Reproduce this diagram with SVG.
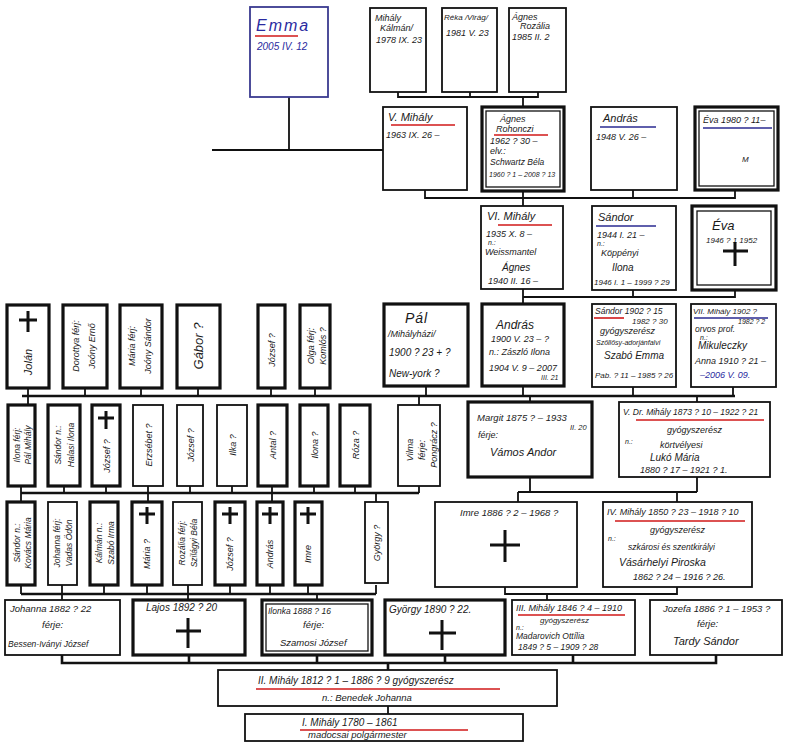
<svg xmlns="http://www.w3.org/2000/svg" width="786" height="745" viewBox="0 0 786 745">
<style>
.b{fill:#fff;stroke:#111;stroke-width:1.8}
.t{fill:#fff;stroke:#111;stroke-width:3.2}
.i{fill:none;stroke:#111;stroke-width:1.3}
.e{fill:#fff;stroke:#3a3a90;stroke-width:1.8}
text{font-family:"Liberation Sans","DejaVu Sans",sans-serif;font-style:italic;fill:#1a1a1a;font-size:9px}
.m{text-anchor:middle}
.bl{fill:#2a2aa0}
.red{stroke:#d01818;stroke-width:1.6;fill:none}
.blu{stroke:#2a2a90;stroke-width:1.4;fill:none}
.cr{stroke:#111;stroke-width:3;fill:none}
.cn path{fill:none;stroke:#111;stroke-width:1.8}
</style>
<rect width="786" height="745" fill="#fff"/>

<g class="cn">
<path d="M289,97 V150 M212,150 H383"/>
<path d="M398,92 V97 H538 V92 M470,92 V97 M523,97 V107"/>
<path d="M425,190 V198 H735 V190 M523,191 V206 M633,190 V198"/>
<path d="M523,289 V297 H735 V290 M633,290 V297 M523,297 V304"/>
<path d="M22,396 H735" style="stroke-width:2.6"/>
<path d="M28,388 V405 M85,388 V396 M141,388 V396 M198,388 V396 M271,388 V396 M315,388 V396 M426,386 V396 M523,386 V396 M633,387 V396 M733,387 V396 M419,396 V405 M530,396 V402 M697,396 V402"/>
<path d="M21,493 H419" style="stroke-width:2.6"/>
<path d="M21,486 V502 M64,486 V493 M106,486 V493 M148,486 V502 M190,486 V493 M232,486 V493 M272,486 V502 M314,486 V493 M355,486 V493 M419,486 V493 M376,493 V502"/>
<path d="M530,477 V492 M697,477 V492 M518,492 H697 M518,492 V502 M677,492 V502"/>
<path d="M21,594 H376" style="stroke-width:2.6"/>
<path d="M21,585 V594 M62,585 V600 M104,585 V594 M147,585 V594 M188,585 V600 M230,585 V594 M270,585 V594 M308,585 V594 M376,585 V594 M317,594 V600"/>
<path d="M505,587 V594 H677 V587 M547,594 V600"/>
<path d="M62,655 V663 H716 V655 M189,655 V663 M317,655 V663 M445,655 V663 M573,655 V663 M388,663 V670" style="stroke-width:2.6"/>
<path d="M388,706 V714"/>
</g>

<g id="emma">
<rect class="e" x="250" y="7" width="78" height="90"/>
<text class="bl" x="256" y="31" style="font-size:16px;letter-spacing:2px">Emma</text>
<path class="red" d="M255,36 H298"/>
<text class="bl" x="257" y="50" style="font-size:10px">2005 IV. 12</text>
</g>
<g id="mihaly-kalman">
<rect class="b" x="370" y="8" width="56" height="84"/>
<text x="375" y="21">Mihály</text>
<text x="380" y="31">Kálmán/</text>
<text x="376" y="43">1978 IX. 23</text>
</g>
<g id="reka">
<rect class="b" x="442" y="8" width="55" height="84"/>
<text x="444" y="20" style="font-size:8px">Réka /Virág/</text>
<text x="446" y="36">1981 V. 23</text>
</g>
<g id="agnes-rozalia">
<rect class="b" x="509" y="8" width="57" height="84"/>
<text x="512" y="20">Ágnes</text>
<text x="520" y="29">Rozália</text>
<text x="512" y="40">1985 II. 2</text>
</g>

<g id="v-mihaly">
<rect class="b" x="383" y="107" width="84" height="83"/>
<text x="388" y="121" style="font-size:11px">V. Mihály</text>
<path class="red" d="M391,125 H455"/>
<text x="386" y="138">1963 IX. 26 –</text>
</g>
<g id="agnes">
<rect class="t" x="482" y="107" width="82" height="84"/>
<rect class="i" x="486" y="111" width="74" height="76"/>
<text x="500" y="122">Ágnes</text>
<text x="496" y="132">Rohonczi</text>
<path class="red" d="M494,135 H548"/>
<text x="490" y="144">1962 ? 30 –</text>
<text x="490" y="154">elv.:</text>
<text x="490" y="165" style="font-size:8.5px">Schwartz Béla</text>
<text x="489" y="177" style="font-size:7px">1960 ? 1 – 2008 ? 13</text>
</g>
<g id="andras-1948">
<rect class="b" x="591" y="107" width="86" height="83"/>
<text x="603" y="122" style="font-size:11px">András</text>
<path class="blu" d="M600,127 H656"/>
<text x="596" y="140">1948 V. 26 –</text>
</g>
<g id="eva-1980">
<rect class="t" x="695" y="107" width="83" height="83"/>
<rect class="i" x="699" y="111" width="75" height="75"/>
<text x="703" y="123" style="font-size:9px">Éva 1980 ? 11–</text>
<path class="blu" d="M703,128 H772"/>
<text x="742" y="162" style="font-size:8px">M</text>
</g>

<g id="vi-mihaly">
<rect class="b" x="481" y="206" width="82" height="83"/>
<text x="487" y="220" style="font-size:11px">VI. Mihály</text>
<path class="red" d="M498,225 H552"/>
<text x="486" y="237">1935 X. 8 –</text>
<text x="488" y="245" style="font-size:7px">n.:</text>
<text x="485" y="255">Weissmantel</text>
<text x="502" y="271" style="font-size:10px">Ágnes</text>
<text x="488" y="284">1940 II. 16 –</text>
</g>
<g id="sandor-1944">
<rect class="b" x="592" y="206" width="84" height="84"/>
<text x="598" y="221" style="font-size:11px">Sándor</text>
<path class="blu" d="M596,226 H656"/>
<text x="597" y="238">1944 I. 21 –</text>
<text x="597" y="246" style="font-size:7px">n.:</text>
<text x="601" y="256">Köppényi</text>
<text x="612" y="271" style="font-size:10px">Ilona</text>
<text x="594" y="285" style="font-size:8px">1946 I. 1 – 1999 ? 29</text>
</g>
<g id="eva-1946">
<rect class="t" x="692" y="206" width="84" height="84"/>
<rect class="i" x="697" y="211" width="74" height="74"/>
<text x="712" y="230" style="font-size:13px">Éva</text>
<text x="706" y="243" style="font-size:8px">1946 ? 1  1952</text>
<path class="cr" d="M735,242 V266 M723,251 H748"/>
</g>

<g id="jolan">
<rect class="t" x="7" y="305" width="42" height="83"/>
<path class="cr" d="M28,311 V332 M19,320 H37"/>
<text class="m" transform="translate(32,362) rotate(-90)" style="font-size:11px">Jolán</text>
</g>
<g id="dorottya">
<rect class="t" x="63" y="305" width="44" height="83"/>
<text class="m" transform="translate(79,346) rotate(-90)">Dorottya  férj:</text>
<text class="m" transform="translate(95,346) rotate(-90)">Joóny Ernő</text>
</g>
<g id="maria-4">
<rect class="t" x="120" y="305" width="42" height="83"/>
<text class="m" transform="translate(135,346) rotate(-90)">Mária  férj:</text>
<text class="m" transform="translate(151,346) rotate(-90)">Joóny Sándor</text>
</g>
<g id="gabor">
<rect class="t" x="177" y="305" width="43" height="83"/>
<text class="m" transform="translate(203,346) rotate(-90)" style="font-size:13px">Gábor ?</text>
</g>
<g id="jozsef-4">
<rect class="t" x="258" y="305" width="27" height="83"/>
<text class="m" transform="translate(275,350) rotate(-90)">József ?</text>
</g>
<g id="olga">
<rect class="t" x="300" y="305" width="30" height="83"/>
<text class="m" transform="translate(314,346) rotate(-90)">Olga  férj:</text>
<text class="m" transform="translate(326,346) rotate(-90)">Komlós ?</text>
</g>
<g id="pal">
<rect class="t" x="384" y="304" width="84" height="82"/>
<text x="405" y="323" style="font-size:14px;letter-spacing:1px">Pál</text>
<text x="388" y="337">/Mihályházi/</text>
<text x="389" y="356" style="font-size:10px">1900 ? 23 + ?</text>
<text x="389" y="377" style="font-size:10px">New-york ?</text>
</g>
<g id="andras-1900">
<rect class="t" x="482" y="304" width="82" height="82"/>
<text x="496" y="329" style="font-size:12px">András</text>
<text x="491" y="342">1900 V. 23 – ?</text>
<text x="489" y="355">n.: Zászló Ilona</text>
<text x="489" y="371">1904 V. 9 – 2007</text>
<text x="541" y="380" style="font-size:7px">III. 21</text>
</g>
<g id="sandor-1902">
<rect class="b" x="592" y="304" width="84" height="83"/>
<text x="595" y="314" style="font-size:8.5px">Sándor 1902 ? 15</text>
<path class="red" d="M594,318 H624"/>
<text x="632" y="324" style="font-size:8px">1982 ? 30</text>
<text x="600" y="334">gyógyszerész</text>
<text x="596" y="345" style="font-size:7px">Szőllősy-adorjánfalvi</text>
<text x="604" y="359" style="font-size:10px">Szabó Emma</text>
<text x="595" y="378" style="font-size:8px">Pab. ? 11 – 1985 ? 26</text>
</g>
<g id="vii-mihaly">
<rect class="b" x="691" y="304" width="85" height="83"/>
<text x="693" y="314" style="font-size:8px">VII. Mihály 1902 ?</text>
<path class="blu" d="M694,318 H768"/>
<text x="738" y="324" style="font-size:7px">1982 ? 2</text>
<text x="695" y="332" style="font-size:8.5px">orvos prof.</text>
<text x="700" y="340" style="font-size:7px">n.:</text>
<text x="698" y="349" style="font-size:10px">Mikuleczky</text>
<text x="695" y="364" style="font-size:9px">Anna 1910 ? 21 –</text>
<text class="bl" x="700" y="378">–2006 V. 09.</text>
</g>

<g id="ilona-5">
<rect class="t" x="8" y="405" width="27" height="81"/>
<text class="m" transform="translate(20,445) rotate(-90)" style="font-size:8.5px">Ilona  férj:</text>
<text class="m" transform="translate(31,445) rotate(-90)" style="font-size:8.5px">Pál Mihály</text>
</g>
<g id="sandor-5">
<rect class="t" x="48" y="405" width="32" height="81"/>
<text class="m" transform="translate(61,445) rotate(-90)" style="font-size:8.5px">Sándor  n.:</text>
<text class="m" transform="translate(74,445) rotate(-90)" style="font-size:8.5px">Halasi Ilona</text>
</g>
<g id="jozsef-5a">
<rect class="t" x="92" y="405" width="28" height="81"/>
<path class="cr" d="M106,411 V429 M98,418 H114"/>
<text class="m" transform="translate(110,456) rotate(-90)">József ?</text>
</g>
<g id="erzsebet-5">
<rect class="b" x="133" y="405" width="30" height="81"/>
<text class="m" transform="translate(152,445) rotate(-90)">Erzsébet ?</text>
</g>
<g id="jozsef-5b">
<rect class="b" x="177" y="405" width="26" height="81"/>
<text class="m" transform="translate(194,445) rotate(-90)">József ?</text>
</g>
<g id="ilka-5">
<rect class="b" x="217" y="405" width="30" height="81"/>
<text class="m" transform="translate(236,445) rotate(-90)">Ilka ?</text>
</g>
<g id="antal-5">
<rect class="t" x="258" y="405" width="29" height="81"/>
<text class="m" transform="translate(276,445) rotate(-90)">Antal ?</text>
</g>
<g id="ilona-5b">
<rect class="t" x="300" y="405" width="28" height="81"/>
<text class="m" transform="translate(318,445) rotate(-90)">Ilona ?</text>
</g>
<g id="roza-5">
<rect class="t" x="340" y="405" width="30" height="81"/>
<text class="m" transform="translate(359,445) rotate(-90)">Róza ?</text>
</g>
<g id="vilma-5">
<rect class="b" x="398" y="405" width="42" height="81"/>
<text class="m" transform="translate(413,450) rotate(-90)">Vilma</text>
<text class="m" transform="translate(425,450) rotate(-90)">férje:</text>
<text class="m" transform="translate(437,445) rotate(-90)">Pongrácz ?</text>
</g>
<g id="margit">
<rect class="t" x="468" y="402" width="124" height="75"/>
<text x="477" y="421" style="font-size:9.5px">Margit 1875 ? – 1933</text>
<text x="570" y="430" style="font-size:7.5px">II. 20</text>
<text x="478" y="438">férje:</text>
<text x="490" y="456" style="font-size:11px">Vámos Andor</text>
</g>
<g id="v-dr-mihaly">
<rect class="b" x="619" y="402" width="151" height="75"/>
<text x="623" y="415" style="font-size:8.5px">V. Dr. Mihály 1873 ? 10 – 1922 ? 21</text>
<path class="red" d="M636,420 H764"/>
<text x="667" y="433">gyógyszerész</text>
<text x="625" y="444" style="font-size:7px">n.:</text>
<text x="660" y="448">körtvélyesi</text>
<text x="650" y="461" style="font-size:10px">Lukó Mária</text>
<text x="640" y="473">1880 ? 17 – 1921 ? 1.</text>
</g>

<g id="sandor-6">
<rect class="t" x="7" y="502" width="28" height="83"/>
<text class="m" transform="translate(20,543) rotate(-90)" style="font-size:8.5px">Sándor  n.:</text>
<text class="m" transform="translate(31,543) rotate(-90)" style="font-size:8.5px">Kovács Mária</text>
</g>
<g id="johanna-6">
<rect class="b" x="48" y="502" width="29" height="83"/>
<text class="m" transform="translate(60,543) rotate(-90)" style="font-size:8.5px">Johanna férj:</text>
<text class="m" transform="translate(72,543) rotate(-90)" style="font-size:8.5px">Vadas Ödön</text>
</g>
<g id="kalman-6">
<rect class="t" x="90" y="502" width="28" height="83"/>
<text class="m" transform="translate(102,543) rotate(-90)" style="font-size:8.5px">Kálmán  n.:</text>
<text class="m" transform="translate(114,543) rotate(-90)" style="font-size:8.5px">Szabó Irma</text>
</g>
<g id="maria-6">
<rect class="t" x="132" y="502" width="30" height="83"/>
<path class="cr" d="M147,507 V524 M139,514 H155"/>
<text class="m" transform="translate(150,554) rotate(-90)">Mária ?</text>
</g>
<g id="rozalia-6">
<rect class="b" x="173" y="502" width="29" height="83"/>
<text class="m" transform="translate(185,543) rotate(-90)" style="font-size:8.5px">Rozália férj:</text>
<text class="m" transform="translate(197,543) rotate(-90)" style="font-size:8.5px">Szilágyi Béla</text>
</g>
<g id="jozsef-6">
<rect class="t" x="215" y="502" width="30" height="83"/>
<path class="cr" d="M230,507 V524 M222,514 H238"/>
<text class="m" transform="translate(233,554) rotate(-90)">József ?</text>
</g>
<g id="andras-6">
<rect class="t" x="257" y="502" width="26" height="83"/>
<path class="cr" d="M270,507 V524 M262,514 H278"/>
<text class="m" transform="translate(273,554) rotate(-90)">András</text>
</g>
<g id="imre-6">
<rect class="t" x="295" y="502" width="27" height="83"/>
<path class="cr" d="M308,507 V524 M300,514 H316"/>
<text class="m" transform="translate(311,554) rotate(-90)">Imre</text>
</g>
<g id="gyorgy-6">
<rect class="b" x="365" y="502" width="23" height="81"/>
<text class="m" transform="translate(380,543) rotate(-90)">György ?</text>
</g>
<g id="imre-1886">
<rect class="b" x="435" y="502" width="142" height="85"/>
<text x="460" y="516" style="font-size:9.5px">Imre 1886 ? 2 – 1968 ?</text>
<path class="cr" d="M505,530 V562 M490,545 H520"/>
</g>
<g id="iv-mihaly">
<rect class="b" x="603" y="502" width="149" height="85"/>
<text x="607" y="515" style="font-size:9px">IV. Mihály 1850 ? 23 – 1918 ? 10</text>
<path class="red" d="M615,521 H745"/>
<text x="650" y="533">gyógyszerész</text>
<text x="608" y="541" style="font-size:7px">n.:</text>
<text x="628" y="550" style="font-size:8.5px">szkárosi és szentkirályi</text>
<text x="619" y="566" style="font-size:10.5px">Vásárhelyi Piroska</text>
<text x="633" y="580">1862 ? 24 – 1916 ? 26.</text>
</g>

<g id="johanna">
<rect class="b" x="5" y="600" width="115" height="55"/>
<text x="10" y="612" style="font-size:9.5px">Johanna 1882 ? 22</text>
<text x="42" y="628" style="font-size:9.5px">férje:</text>
<text x="8" y="647" style="font-size:8.5px">Bessen-Iványi József</text>
</g>
<g id="lajos">
<rect class="t" x="133" y="600" width="112" height="55"/>
<text x="146" y="611" style="font-size:10px">Lajos 1892 ? 20</text>
<path class="cr" d="M188,618 V648 M176,631 H201"/>
</g>
<g id="ilonka">
<rect class="t" x="262" y="600" width="110" height="55"/>
<rect class="i" x="266" y="604" width="102" height="47"/>
<text x="268" y="614" style="font-size:8.5px">Ilonka 1888 ? 16</text>
<text x="303" y="628" style="font-size:9.5px">férje:</text>
<text x="280" y="646" style="font-size:9.5px">Szamosi József</text>
</g>
<g id="gyorgy">
<rect class="t" x="385" y="600" width="120" height="55"/>
<text x="389" y="613" style="font-size:10px">György 1890 ? 22.</text>
<path class="cr" d="M442,620 V650 M429,633 H456"/>
</g>
<g id="iii-mihaly">
<rect class="b" x="512" y="600" width="123" height="55"/>
<text x="516" y="611" style="font-size:9px">III. Mihály 1846 ? 4 – 1910</text>
<path class="red" d="M518,615 H625"/>
<text x="540" y="623" style="font-size:8px">gyógyszerész</text>
<text x="516" y="630" style="font-size:7px">n.:</text>
<text x="516" y="639" style="font-size:8.5px">Madarovich Ottília</text>
<text x="518" y="650" style="font-size:8.5px">1849 ? 5 – 1909 ? 28</text>
</g>
<g id="jozefa">
<rect class="b" x="650" y="600" width="132" height="55"/>
<text x="663" y="612" style="font-size:9.5px">Jozefa 1886 ? 1 – 1953 ?</text>
<text x="697" y="627" style="font-size:9.5px">férje:</text>
<text x="673" y="645" style="font-size:11px">Tardy Sándor</text>
</g>

<g id="ii-mihaly">
<rect class="b" x="218" y="670" width="339" height="36"/>
<text x="258" y="684" style="font-size:10px">II. Mihály 1812 ? 1 – 1886 ? 9 gyógyszerész</text>
<path class="red" d="M256,689 H500"/>
<text x="322" y="701" style="font-size:9.5px">n.: Benedek Johanna</text>
</g>
<g id="i-mihaly">
<rect class="b" x="245" y="714" width="278" height="27"/>
<text x="302" y="726" style="font-size:10px">I. Mihály 1780 – 1861</text>
<path class="red" d="M300,730 H468"/>
<text x="308" y="738" style="font-size:9.5px">madocsai polgármester</text>
</g>
</svg>
